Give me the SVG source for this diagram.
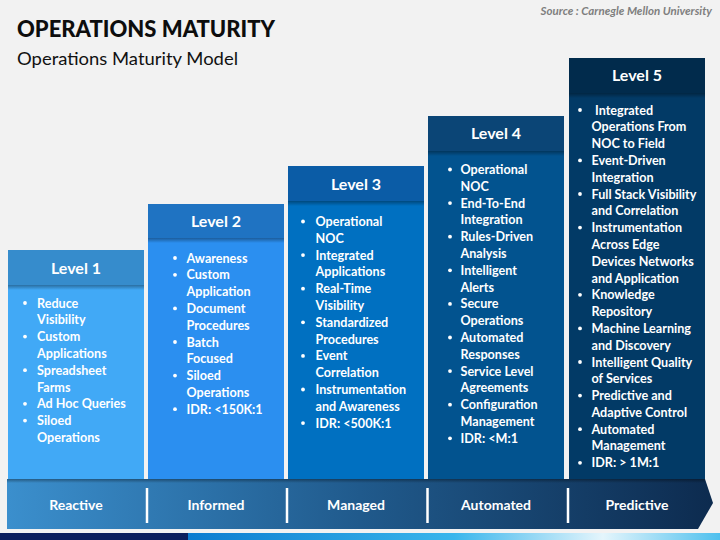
<svg xmlns="http://www.w3.org/2000/svg" width="720" height="540" viewBox="0 0 720 540">
<defs>
<style>
.t{font-family:Lato,"Open Sans","Liberation Sans",sans-serif;font-weight:700;fill:#fff;font-size:12.6px}
.h{font-family:Lato,"Open Sans","Liberation Sans",sans-serif;font-weight:700;fill:#fff;font-size:16px;text-anchor:middle}
.b{font-family:Lato,"Open Sans","Liberation Sans",sans-serif;font-weight:700;fill:#fff;font-size:14px;text-anchor:middle}
.dot{fill:#fff}
.div{stroke:#fff;stroke-width:2.5}
</style>
<linearGradient id="band" x1="0" y1="0" x2="1" y2="0">
<stop offset="0" stop-color="#3b8fcd"/>
<stop offset="0.5" stop-color="#205a8c"/>
<stop offset="1" stop-color="#0d2b4f"/>
</linearGradient>
<linearGradient id="strip" x1="188" y1="0" x2="720" y2="0" gradientUnits="userSpaceOnUse">
<stop offset="0" stop-color="#0b7cd0"/>
<stop offset="0.5" stop-color="#3ab6ec"/>
<stop offset="0.78" stop-color="#e4f5fc"/>
<stop offset="1" stop-color="#4ec0ee"/>
</linearGradient>
<linearGradient id="sh" x1="0" y1="0" x2="0" y2="1">
<stop offset="0" stop-color="#000" stop-opacity="0.35"/>
<stop offset="1" stop-color="#000" stop-opacity="0"/>
</linearGradient>
</defs>
<rect width="720" height="540" fill="#f2f2f2"/>
<text x="712" y="15" text-anchor="end" font-family="Lato,'Liberation Sans',sans-serif" font-style="italic" font-weight="700" font-size="11.5" fill="#7f7f7f">Source : Carnegle Mellon University</text>
<text x="17" y="36.5" font-family="Lato,'Liberation Sans',sans-serif" font-weight="900" font-size="23" fill="#0d0d0d" textLength="258" lengthAdjust="spacingAndGlyphs">OPERATIONS MATURITY</text>
<text x="17" y="64.5" font-family="Lato,'Liberation Sans',sans-serif" font-size="18" fill="#111" textLength="221" lengthAdjust="spacingAndGlyphs">Operations Maturity Model</text>

<g id="level1">
<rect x="8" y="285" width="136" height="195" fill="#41a9f6"/>
<rect x="8" y="285" width="136" height="5" fill="url(#sh)"/>
<rect x="8" y="250" width="136" height="35" fill="#368ccc"/>
<text class="h" x="76" y="274">Level 1</text>
<g class="dot"><circle cx="25" cy="303" r="1.9"/><circle cx="25" cy="336.6" r="1.9"/><circle cx="25" cy="370.2" r="1.9"/><circle cx="25" cy="403.8" r="1.9"/><circle cx="25" cy="420.6" r="1.9"/></g>
<text class="t"><tspan x="37" y="307.5">Reduce</tspan><tspan x="37" dy="16.8">Visibility</tspan><tspan x="37" dy="16.8">Custom</tspan><tspan x="37" dy="16.8">Applications</tspan><tspan x="37" dy="16.8">Spreadsheet</tspan><tspan x="37" dy="16.8">Farms</tspan><tspan x="37" dy="16.8">Ad Hoc Queries</tspan><tspan x="37" dy="16.8">Siloed</tspan><tspan x="37" dy="16.8">Operations</tspan></text>
</g>

<g id="level2">
<rect x="148" y="238" width="136" height="242" fill="#2b8ff0"/>
<rect x="148" y="238" width="136" height="5" fill="url(#sh)"/>
<rect x="148" y="204" width="136" height="34" fill="#1f73c2"/>
<text class="h" x="216" y="227">Level 2</text>
<g class="dot"><circle cx="175" cy="258" r="1.9"/><circle cx="175" cy="274.8" r="1.9"/><circle cx="175" cy="308.4" r="1.9"/><circle cx="175" cy="342" r="1.9"/><circle cx="175" cy="375.6" r="1.9"/><circle cx="175" cy="409.2" r="1.9"/></g>
<text class="t"><tspan x="186.5" y="262.5">Awareness</tspan><tspan x="186.5" dy="16.8">Custom</tspan><tspan x="186.5" dy="16.8">Application</tspan><tspan x="186.5" dy="16.8">Document</tspan><tspan x="186.5" dy="16.8">Procedures</tspan><tspan x="186.5" dy="16.8">Batch</tspan><tspan x="186.5" dy="16.8">Focused</tspan><tspan x="186.5" dy="16.8">Siloed</tspan><tspan x="186.5" dy="16.8">Operations</tspan><tspan x="186.5" dy="16.8">IDR: &lt;150K:1</tspan></text>
</g>

<g id="level3">
<rect x="288" y="201" width="136" height="279" fill="#0070c1"/>
<rect x="288" y="201" width="136" height="5" fill="url(#sh)"/>
<rect x="288" y="166" width="136" height="35" fill="#0b5ca6"/>
<text class="h" x="356" y="190">Level 3</text>
<g class="dot"><circle cx="303" cy="221.5" r="1.9"/><circle cx="303" cy="255.1" r="1.9"/><circle cx="303" cy="288.7" r="1.9"/><circle cx="303" cy="322.3" r="1.9"/><circle cx="303" cy="355.9" r="1.9"/><circle cx="303" cy="389.5" r="1.9"/><circle cx="303" cy="423.1" r="1.9"/></g>
<text class="t"><tspan x="315.5" y="226">Operational</tspan><tspan x="315.5" dy="16.8">NOC</tspan><tspan x="315.5" dy="16.8">Integrated</tspan><tspan x="315.5" dy="16.8">Applications</tspan><tspan x="315.5" dy="16.8">Real-Time</tspan><tspan x="315.5" dy="16.8">Visibility</tspan><tspan x="315.5" dy="16.8">Standardized</tspan><tspan x="315.5" dy="16.8">Procedures</tspan><tspan x="315.5" dy="16.8">Event</tspan><tspan x="315.5" dy="16.8">Correlation</tspan><tspan x="315.5" dy="16.8">Instrumentation</tspan><tspan x="315.5" dy="16.8">and Awareness</tspan><tspan x="315.5" dy="16.8">IDR: &lt;500K:1</tspan></text>
</g>

<g id="level4">
<rect x="428" y="151" width="136" height="329" fill="#02538f"/>
<rect x="428" y="151" width="136" height="5" fill="url(#sh)"/>
<rect x="428" y="116" width="136" height="35" fill="#0b4576"/>
<text class="h" x="496" y="139">Level 4</text>
<g class="dot"><circle cx="450" cy="169.5" r="1.9"/><circle cx="450" cy="203.1" r="1.9"/><circle cx="450" cy="236.7" r="1.9"/><circle cx="450" cy="270.3" r="1.9"/><circle cx="450" cy="303.9" r="1.9"/><circle cx="450" cy="337.5" r="1.9"/><circle cx="450" cy="371.1" r="1.9"/><circle cx="450" cy="404.7" r="1.9"/><circle cx="450" cy="438.3" r="1.9"/></g>
<text class="t"><tspan x="460.5" y="174">Operational</tspan><tspan x="460.5" dy="16.8">NOC</tspan><tspan x="460.5" dy="16.8">End-To-End</tspan><tspan x="460.5" dy="16.8">Integration</tspan><tspan x="460.5" dy="16.8">Rules-Driven</tspan><tspan x="460.5" dy="16.8">Analysis</tspan><tspan x="460.5" dy="16.8">Intelligent</tspan><tspan x="460.5" dy="16.8">Alerts</tspan><tspan x="460.5" dy="16.8">Secure</tspan><tspan x="460.5" dy="16.8">Operations</tspan><tspan x="460.5" dy="16.8">Automated</tspan><tspan x="460.5" dy="16.8">Responses</tspan><tspan x="460.5" dy="16.8">Service Level</tspan><tspan x="460.5" dy="16.8">Agreements</tspan><tspan x="460.5" dy="16.8">Configuration</tspan><tspan x="460.5" dy="16.8">Management</tspan><tspan x="460.5" dy="16.8">IDR: &lt;M:1</tspan></text>
</g>

<g id="level5">
<rect x="569" y="93" width="136" height="387" fill="#023a66"/>
<rect x="569" y="93" width="136" height="5" fill="url(#sh)"/>
<rect x="569" y="58" width="136" height="35" fill="#012b4c"/>
<text class="h" x="637" y="81">Level 5</text>
<g class="dot"><circle cx="580" cy="110" r="1.9"/><circle cx="580" cy="160.4" r="1.9"/><circle cx="580" cy="194" r="1.9"/><circle cx="580" cy="227.6" r="1.9"/><circle cx="580" cy="294.8" r="1.9"/><circle cx="580" cy="328.4" r="1.9"/><circle cx="580" cy="362" r="1.9"/><circle cx="580" cy="395.6" r="1.9"/><circle cx="580" cy="429.2" r="1.9"/><circle cx="580" cy="462.8" r="1.9"/></g>
<text class="t"><tspan x="595" y="114.5">Integrated</tspan><tspan x="591.5" dy="16.8">Operations From</tspan><tspan x="591.5" dy="16.8">NOC to Field</tspan><tspan x="591.5" dy="16.8">Event-Driven</tspan><tspan x="591.5" dy="16.8">Integration</tspan><tspan x="591.5" dy="16.8">Full Stack Visibility</tspan><tspan x="591.5" dy="16.8">and Correlation</tspan><tspan x="591.5" dy="16.8">Instrumentation</tspan><tspan x="591.5" dy="16.8">Across Edge</tspan><tspan x="591.5" dy="16.8">Devices Networks</tspan><tspan x="591.5" dy="16.8">and Application</tspan><tspan x="591.5" dy="16.8">Knowledge</tspan><tspan x="591.5" dy="16.8">Repository</tspan><tspan x="591.5" dy="16.8">Machine Learning</tspan><tspan x="591.5" dy="16.8">and Discovery</tspan><tspan x="591.5" dy="16.8">Intelligent Quality</tspan><tspan x="591.5" dy="16.8">of Services</tspan><tspan x="591.5" dy="16.8">Predictive and</tspan><tspan x="591.5" dy="16.8">Adaptive Control</tspan><tspan x="591.5" dy="16.8">Automated</tspan><tspan x="591.5" dy="16.8">Management</tspan><tspan x="591.5" dy="16.8">IDR: &gt; 1M:1</tspan></text>
</g>

<g id="band">
<polygon points="7,479 705,479 713,503 698,529 7,529" fill="url(#band)"/>
<rect x="7" y="479" width="698" height="4" fill="url(#sh)"/>
<g class="div"><line x1="147" y1="488" x2="147" y2="523"/><line x1="287" y1="488" x2="287" y2="523"/><line x1="427.5" y1="488" x2="427.5" y2="523"/><line x1="568" y1="488" x2="568" y2="523"/></g>
<text class="b" x="76" y="510">Reactive</text>
<text class="b" x="216" y="510">Informed</text>
<text class="b" x="356" y="510">Managed</text>
<text class="b" x="496" y="510">Automated</text>
<text class="b" x="637" y="510">Predictive</text>
</g>

<rect x="0" y="533" width="188" height="7" fill="#0b1f5e"/>
<rect x="188" y="533" width="532" height="7" fill="url(#strip)"/>
</svg>
